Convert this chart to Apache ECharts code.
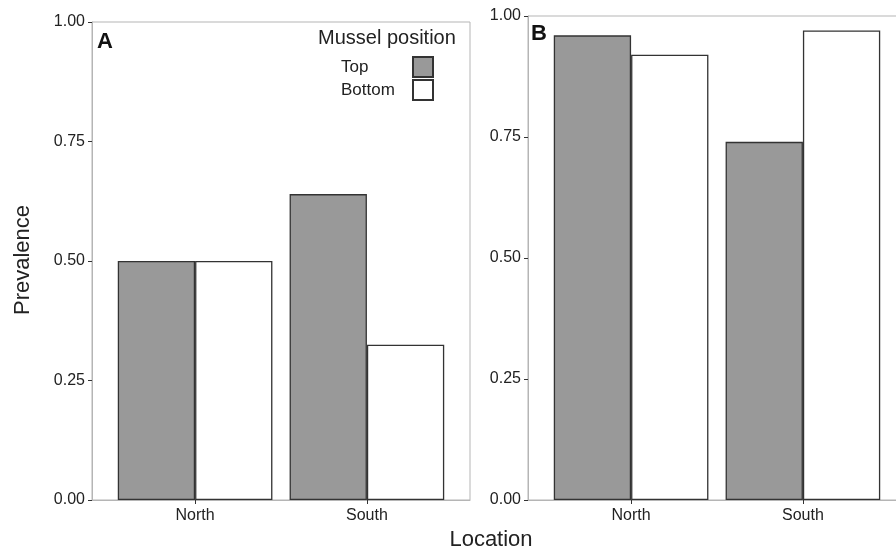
<!DOCTYPE html>
<html>
<head>
<meta charset="utf-8">
<script src="https://cdn.jsdelivr.net/npm/echarts@6/dist/echarts.min.js"></script>
<style>
html,body{margin:0;padding:0;background:#fff;}
#chart{width:896px;height:552px;}
</style>
</head>
<body>
<div id="chart"></div>
<script>
const categories = ['North', 'South'];
const seriesNames = ['Top', 'Bottom'];
const topA = [0.50, 0.64];
const bottomA = [0.50, 0.325];
const topB = [0.96, 0.74];
const bottomB = [0.92, 0.97];
const yTicks = [0, 0.25, 0.5, 0.75, 1];

const FONT = '"Liberation Sans", Arial, sans-serif';
const frameColor = '#b5b5b5';
const textColor = '#222';

function toPoints(arr) { return arr.map((v, i) => [i + 1, v]); }

function xAxisCfg(gi) {
  return {
    type: 'value', gridIndex: gi, min: 0.4, max: 2.6,
    axisLine: { show: true, lineStyle: { color: frameColor, width: 1 } },
    axisTick: { show: true, customValues: [1, 2], length: 4, lineStyle: { color: '#333' } },
    axisLabel: {
      customValues: [1, 2], margin: 8, color: textColor, fontSize: 16, fontFamily: FONT,
      formatter: v => categories[Math.round(v) - 1] || ''
    },
    splitLine: { show: false }
  };
}
function yAxisCfg(gi) {
  return {
    type: 'value', gridIndex: gi, min: 0, max: 1, interval: 0.25,
    axisLine: { show: true, lineStyle: { color: frameColor, width: 1 } },
    axisTick: { show: true, length: 4, lineStyle: { color: '#333' } },
    axisLabel: { margin: 7, color: textColor, fontSize: 16, fontFamily: FONT, formatter: v => v.toFixed(2) },
    splitLine: { show: false }
  };
}
function barSeries(name, data, gi, fill) {
  return {
    type: 'bar', name: name, xAxisIndex: gi, yAxisIndex: gi,
    data: toPoints(data), barWidth: '45%', barGap: '0%',
    itemStyle: { color: fill, borderColor: '#333', borderWidth: 1.3 },
    emphasis: { disabled: true }, animation: false
  };
}

const chart = echarts.init(document.getElementById('chart'), null, { renderer: 'canvas' });
chart.setOption({
  animation: false,
  backgroundColor: '#fff',
  textStyle: { fontFamily: FONT },
  grid: [
    { left: 92, top: 22, width: 378, height: 478, show: true, borderColor: frameColor, borderWidth: 1,
      backgroundColor: 'transparent', containLabel: false, outerBoundsMode: 'none' },
    { left: 528, top: 16, width: 378, height: 484, show: true, borderColor: frameColor, borderWidth: 1,
      backgroundColor: 'transparent', containLabel: false, outerBoundsMode: 'none' }
  ],
  xAxis: [xAxisCfg(0), xAxisCfg(1)],
  yAxis: [yAxisCfg(0), yAxisCfg(1)],
  legend: {
    data: seriesNames,
    orient: 'vertical', align: 'right',
    left: 341, top: 56, itemWidth: 20, itemHeight: 20, itemGap: 1, padding: 0,
    icon: 'rect', selectedMode: false,
    formatter: '{t|{name}}',
    textStyle: { color: textColor, fontSize: 17, fontFamily: FONT,
      rich: { t: { width: 67, align: 'left', fontSize: 17, fontFamily: FONT, color: textColor } } }
  },
  series: [
    barSeries(seriesNames[0], topA, 0, '#999999'),
    barSeries(seriesNames[1], bottomA, 0, '#ffffff'),
    barSeries(seriesNames[0], topB, 1, '#999999'),
    barSeries(seriesNames[1], bottomB, 1, '#ffffff')
  ],
  graphic: [
    { type: 'text', left: 97, top: 31, style: { text: 'A', font: 'bold 22px ' + FONT, fill: '#111' } },
    { type: 'text', left: 531, top: 23, style: { text: 'B', font: 'bold 22px ' + FONT, fill: '#111' } },
    { type: 'text', left: 318, top: 28, style: { text: 'Mussel position', font: '20px ' + FONT, fill: textColor } },
    { type: 'text', x: 23, y: 260, rotation: Math.PI / 2,
      style: { text: 'Prevalence', font: '22px ' + FONT, fill: textColor, align: 'center', verticalAlign: 'middle' } },
    { type: 'text', x: 491, y: 540,
      style: { text: 'Location', font: '22px ' + FONT, fill: textColor, align: 'center', verticalAlign: 'middle' } }
  ]
});
</script>
</body>
</html>
